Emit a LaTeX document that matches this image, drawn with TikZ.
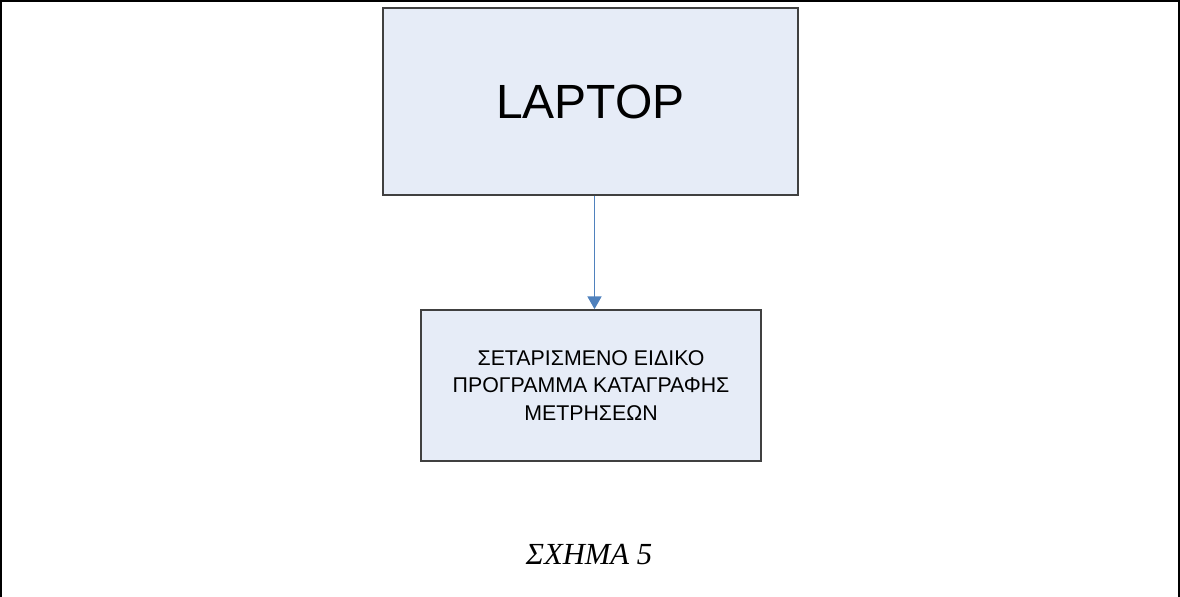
\documentclass[tikz,border=0pt]{standalone}
\usepackage{fontspec}
\setmainfont{Liberation Serif}
\newfontfamily\boxfont{Liberation Sans}
\usetikzlibrary{arrows.meta}
\definecolor{boxfill}{HTML}{E6ECF7}
\definecolor{boxline}{HTML}{404040}
\definecolor{linkblue}{HTML}{4F81BD}
\tikzset{
  blockbox/.style={draw=boxline, line width=1.3pt, fill=boxfill, inner sep=0pt},
  link/.style={draw=linkblue, line width=1pt, -{Triangle[width=10.5pt,length=9.5pt]}},
  framerule/.style={draw=black, line cap=rect}
}
\begin{document}
\begin{tikzpicture}[x=0.75pt, y=-0.75pt]
  \useasboundingbox (0,0) rectangle (1180,596);
  % page frame: top, left and right rules
  \draw[framerule, line width=1.6pt] (0,1) -- (1180,1);
  \draw[framerule, line width=1.2pt] (0.8,0) -- (0.8,596);
  \draw[framerule, line width=1.2pt] (1179.2,0) -- (1179.2,596);
  % blocks
  \node[blockbox, minimum width=415*0.75pt, minimum height=187*0.75pt,
        font=\boxfont\fontsize{36pt}{40pt}\selectfont]
    (laptop) at (590.5,101.5) {LAPTOP};
  \node[blockbox, minimum width=340*0.75pt, minimum height=151*0.75pt, align=center,
        font=\boxfont\fontsize{16pt}{20.6pt}\selectfont]
    (prog) at (591,385.5) {ΣΕΤΑΡΙΣΜΕΝΟ ΕΙΔΙΚΟ\\ΠΡΟΓΡΑΜΜΑ ΚΑΤΑΓΡΑΦΗΣ\\ΜΕΤΡΗΣΕΩΝ};
  \draw[link] (laptop.south -| 594.5,0) -- (prog.north -| 594.5,0);
  % caption
  \node[font=\itshape\fontsize{23pt}{27pt}\selectfont] (caption) at (589,555) {ΣΧΗΜΑ 5};
\end{tikzpicture}
\end{document}
